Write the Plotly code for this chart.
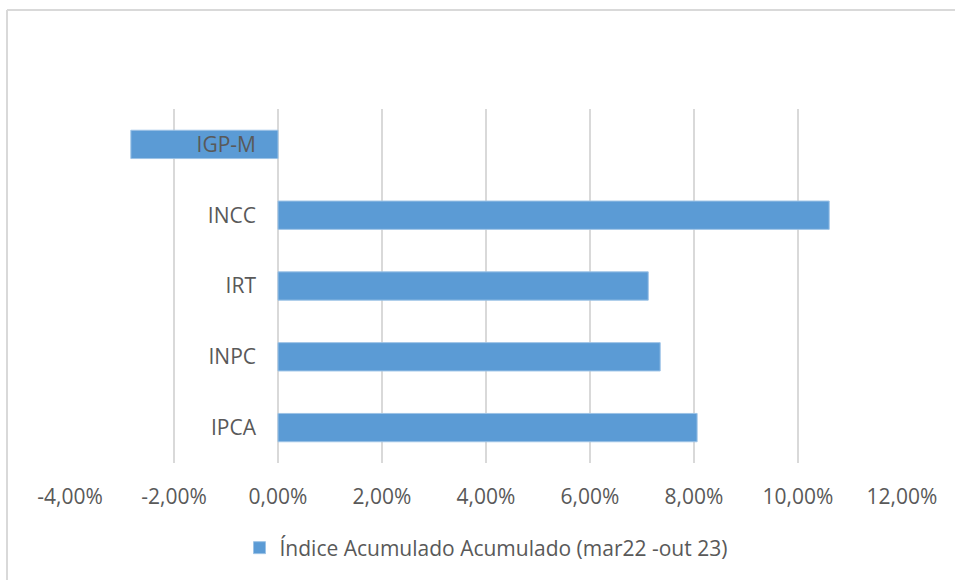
import plotly.graph_objects as go

categories = ["IPCA", "INPC", "IRT", "INCC", "IGP-M"]
values = [8.06, 7.35, 7.12, 10.60, -2.83]  # percent
tick_vals = [-4, -2, 0, 2, 4, 6, 8, 10, 12]
tick_text = ["-4,00%", "-2,00%", "0,00%", "2,00%", "4,00%", "6,00%", "8,00%", "10,00%", "12,00%"]
series_name = "Índice Acumulado Acumulado (mar22 -out 23)"

W, H = 955, 580
L, R, T, B = 70, 53, 109, 117
pw, ph = W - L - R, H - T - B

def px_x(p):
    return (p - L) / pw

def px_y(p):
    return (H - B - p) / ph

fig = go.Figure()
fig.add_trace(go.Bar(
    y=categories, x=values, orientation="h", name=series_name,
    width=0.4,
    marker=dict(color="#5B9BD5", line=dict(color="#9DC3E6", width=1)),
    showlegend=True,
))

font = dict(family="Open Sans, Lato, sans-serif", size=21, color="#595959")

fig.update_layout(
    width=W, height=H,
    margin=dict(l=L, r=R, t=T, b=B, autoexpand=False),
    paper_bgcolor="white", plot_bgcolor="white",
    font=font,
    bargap=0.6,
    xaxis=dict(
        range=[-4, 12], tickvals=tick_vals, ticktext=tick_text,
        showgrid=True, gridcolor="#D9D9D9", gridwidth=2,
        zeroline=True, zerolinecolor="#D9D9D9", zerolinewidth=2,
        showline=False, ticks="", ticklabelstandoff=19,
        tickfont=font,
    ),
    yaxis=dict(
        range=[-0.5, 4.5], categoryorder="array", categoryarray=categories,
        anchor="free", position=px_x(278),
        showgrid=False, zeroline=False, showline=False, ticks="",
        ticklabelstandoff=22, tickfont=font,
    ),
    legend=dict(
        orientation="h", x=0.5, xanchor="center", y=px_y(548), yanchor="middle",
        font=font, bgcolor="rgba(0,0,0,0)", itemwidth=30,
    ),
    shapes=[
        dict(type="line", xref="paper", yref="paper",
             x0=px_x(7), x1=px_x(960), y0=px_y(10), y1=px_y(10),
             line=dict(color="#D9D9D9", width=2)),
        dict(type="line", xref="paper", yref="paper",
             x0=px_x(7), x1=px_x(7), y0=px_y(10), y1=px_y(585),
             line=dict(color="#D9D9D9", width=2)),
    ],
)

fig.write_html(
    "out.html",
    config={"displayModeBar": False},
    post_script="document.body.style.margin='0';document.body.style.overflow='hidden';",
)
